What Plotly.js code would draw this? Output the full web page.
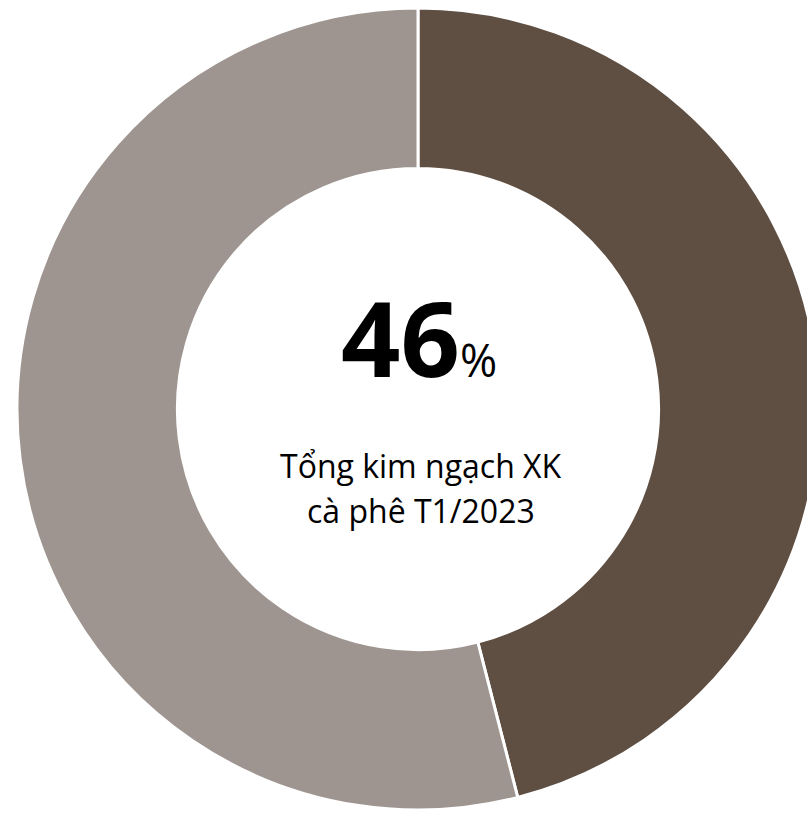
<!DOCTYPE html>
<html>
<head>
<meta charset="utf-8">
<script src="https://cdn.plot.ly/plotly-3.0.1.min.js"></script>
<style>
html,body{margin:0;padding:0;overflow:hidden;background:#fff;}
#chart{width:840px;height:814px;}
</style>
</head>
<body>
<div id="chart"></div>
<script>
var labels = ["Cà phê", "Khác"];
var values = [46, 54];
var colors = ["#5F4E42", "#9E9590"];
var centerValue = "46";
var centerText = ["Tổng kim ngạch XK", "cà phê T1/2023"];

var W = 840, H = 814;
var cx = 418, cy = 409, R = 401;

var data = [{
  type: "pie",
  labels: labels,
  values: values,
  hole: 0.6,
  sort: false,
  direction: "clockwise",
  rotation: 0,
  textinfo: "none",
  hoverinfo: "none",
  marker: {colors: colors, line: {color: "#ffffff", width: 3}},
  domain: {x: [(cx - R) / W, (cx + R) / W], y: [(H - cy - R) / H, (H - cy + R) / H]}
}];

var lineY = [465, 511];
var annotations = [{
  xref: "paper", yref: "paper", x: 419 / W, y: 1 - 336 / H,
  xanchor: "center", yanchor: "middle", showarrow: false,
  text: "<b>" + centerValue + "</b><span style='font-size:45px'>%</span>",
  font: {family: "Open Sans, sans-serif", size: 104, color: "#000000"}
}];
centerText.forEach(function (t, i) {
  annotations.push({
    xref: "paper", yref: "paper", x: 421 / W, y: 1 - lineY[i] / H,
    xanchor: "center", yanchor: "middle", showarrow: false,
    text: t,
    font: {family: "Open Sans, sans-serif", size: 32, color: "#000000"}
  });
});

var layout = {
  width: W, height: H,
  margin: {l: 0, r: 0, t: 0, b: 0},
  showlegend: false,
  paper_bgcolor: "#ffffff",
  annotations: annotations
};

Plotly.newPlot("chart", data, layout, {displayModeBar: false, staticPlot: true});
</script>
</body>
</html>
